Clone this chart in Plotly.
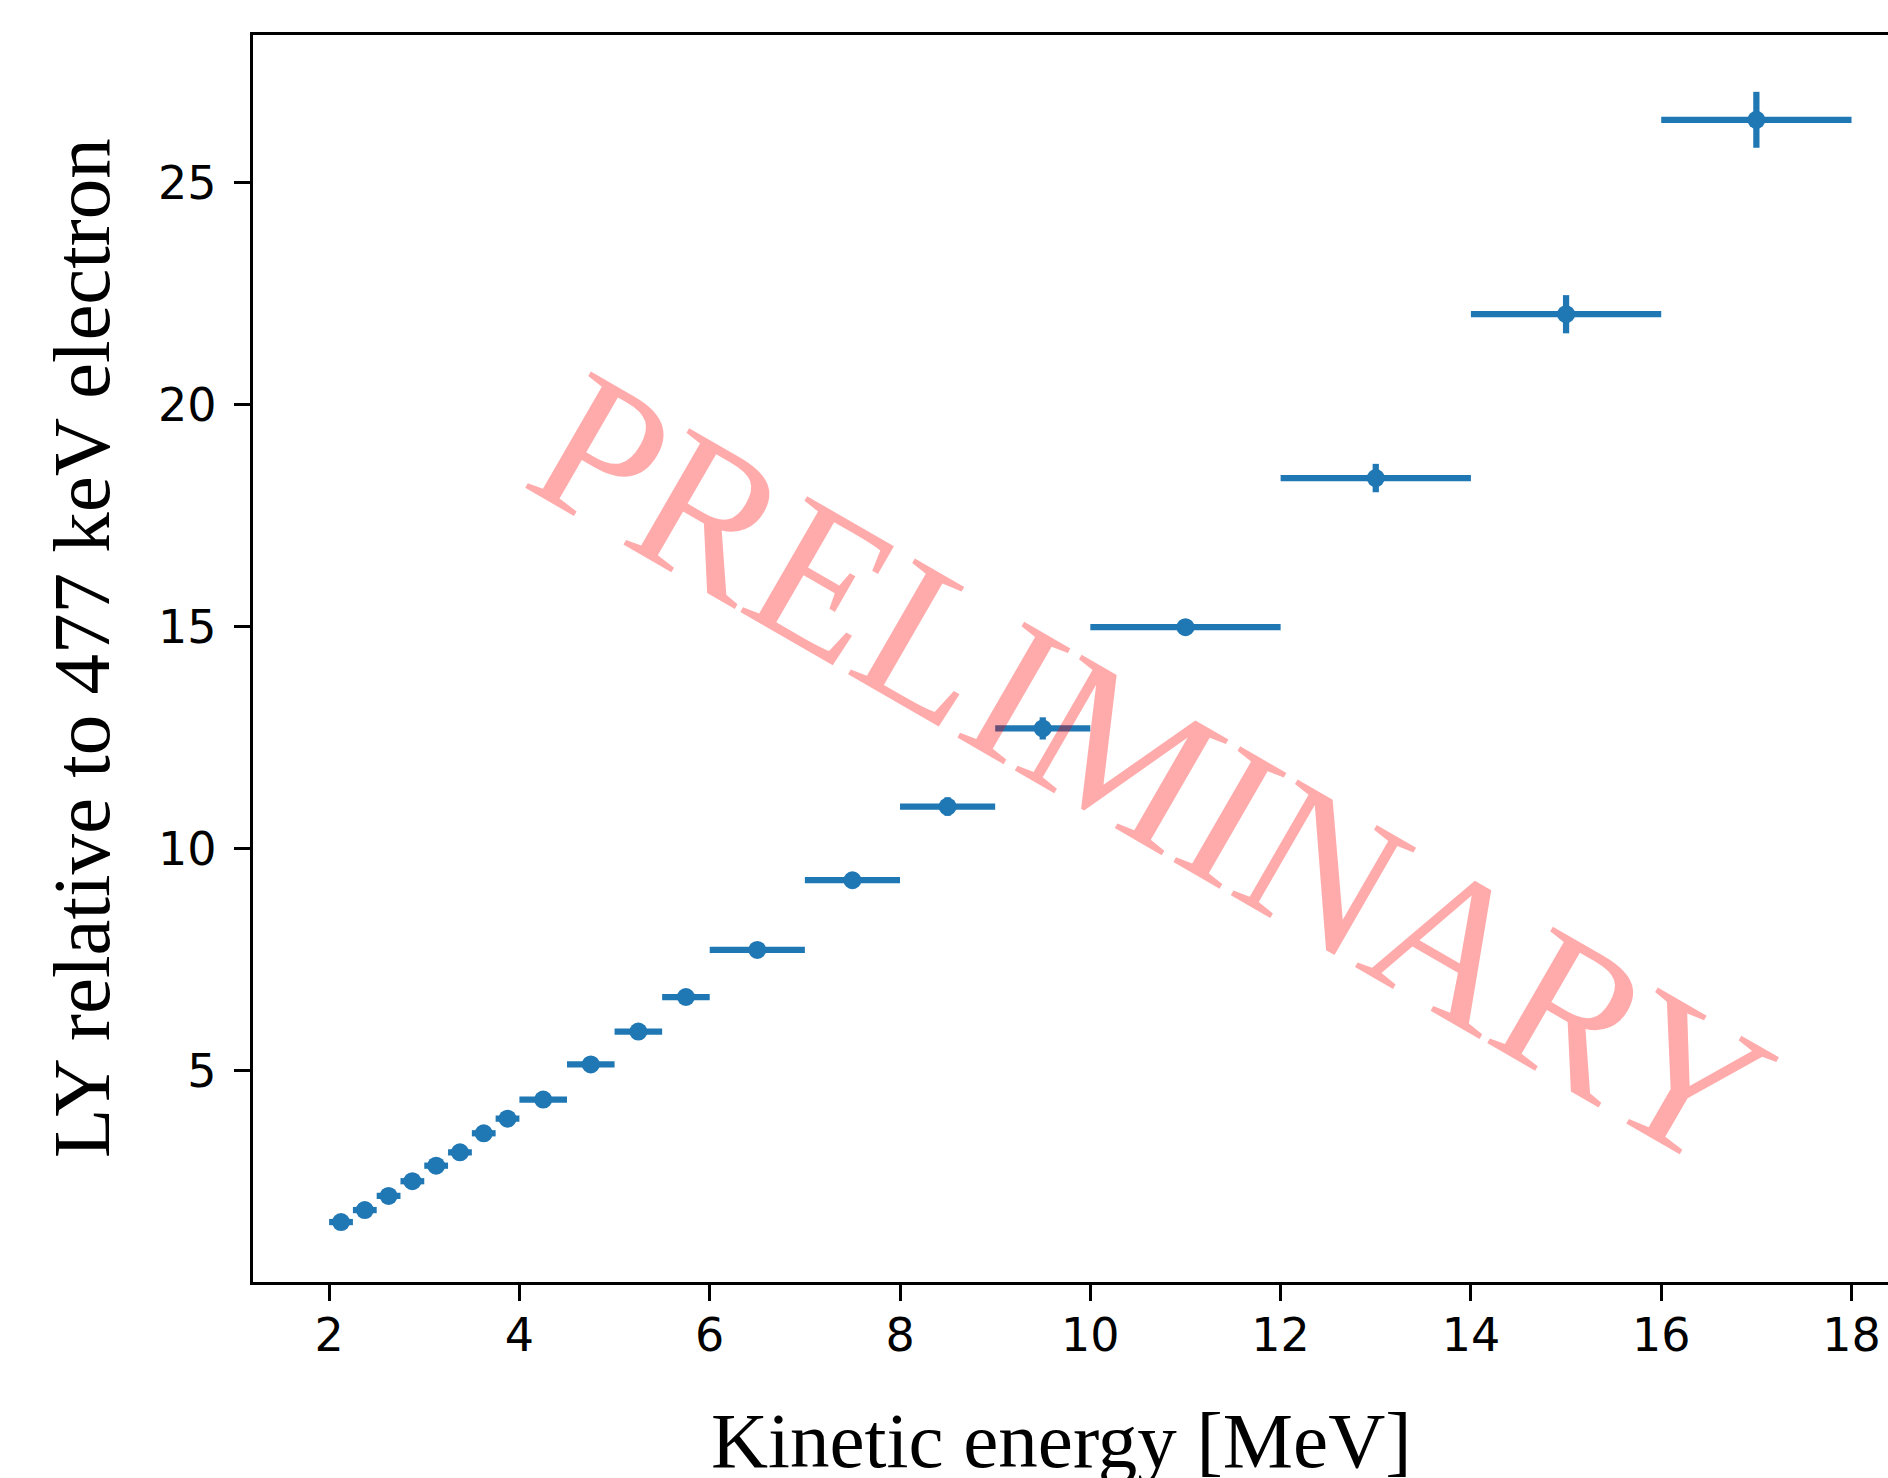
import plotly.graph_objects as go

# Data
energy = [2.125, 2.375, 2.625, 2.875, 3.125, 3.375, 3.625, 3.875,
          4.25, 4.75, 5.25, 5.75, 6.5, 7.5, 8.5, 9.5, 11.0, 13.0, 15.0, 17.0]
energy_err = [0.125] * 8 + [0.25] * 4 + [0.5] * 4 + [1.0] * 4
ly_rel = [1.59, 1.86, 2.18, 2.51, 2.86, 3.16, 3.59, 3.92,
          4.35, 5.14, 5.88, 6.66, 7.72, 9.29, 10.95, 12.71, 14.99, 18.35, 22.04, 26.42]
ly_err = [0.06, 0.06, 0.07, 0.07, 0.08, 0.08, 0.09, 0.09,
          0.10, 0.11, 0.12, 0.13, 0.15, 0.18, 0.21, 0.25, 0.12, 0.32, 0.43, 0.63]
x_ticks = [2, 4, 6, 8, 10, 12, 14, 16, 18]
y_ticks = [5, 10, 15, 20, 25]

W, H = 1888, 1478
ML, MT, MB, MR = 253, 35, 196, 0
PW = W - ML - MR
PH = H - MT - MB
XPX = 95.15  # px per unit on x
x0 = 1.2
x1 = x0 + PW / XPX


def px_x(p):
    return (p - ML) / PW


def px_y(p):
    return (H - MB - p) / PH


blue = "#1f77b4"
fig = go.Figure()
fig.add_trace(go.Scatter(
    x=energy, y=ly_rel, mode="markers",
    marker=dict(color=blue, size=18, line=dict(width=0)),
    error_x=dict(type="data", array=energy_err, symmetric=True,
                 color=blue, thickness=6.25, width=0),
    error_y=dict(type="data", array=ly_err, symmetric=True,
                 color=blue, thickness=6.25, width=0),
    showlegend=False,
))

tickfont = dict(family="DejaVu Sans", size=46, color="black")
fig.update_layout(
    width=W, height=H,
    margin=dict(l=ML, r=MR, t=MT, b=MB, pad=0),
    paper_bgcolor="white", plot_bgcolor="white",
    xaxis=dict(range=[x0, x1], tickvals=x_ticks, ticktext=[str(v) for v in x_ticks],
               showgrid=False, zeroline=False, showline=True, linecolor="black",
               linewidth=3.3, mirror=True, ticks="outside", ticklen=16,
               tickwidth=3.3, tickcolor="black", tickfont=tickfont,
               ticklabelstandoff=-5),
    yaxis=dict(range=[0.24, 28.33], tickvals=y_ticks, ticktext=[str(v) for v in y_ticks],
               showgrid=False, zeroline=False, showline=True, linecolor="black",
               linewidth=3.3, mirror=False, ticks="outside", ticklen=16,
               tickwidth=3.3, tickcolor="black", tickfont=tickfont,
               ticklabelstandoff=8),
    annotations=[
        dict(text="Kinetic energy [MeV]", xref="paper", yref="paper",
             x=px_x(1061), y=px_y(1440), xanchor="center", yanchor="middle",
             showarrow=False, font=dict(family="Liberation Serif", size=79, color="black")),
        dict(text="LY relative to 477 keV electron", xref="paper", yref="paper",
             x=px_x(82), y=px_y(648), xanchor="center", yanchor="middle",
             textangle=-90, showarrow=False,
             font=dict(family="Liberation Serif", size=81, color="black")),
        dict(text="PRELIMINARY", xref="paper", yref="paper",
             x=px_x(1152), y=px_y(770), xanchor="center", yanchor="middle",
             textangle=30, showarrow=False,
             font=dict(family="Liberation Serif", size=204, color="rgba(255,0,0,0.33)")),
    ],
)

fig.write_html("out.html")
